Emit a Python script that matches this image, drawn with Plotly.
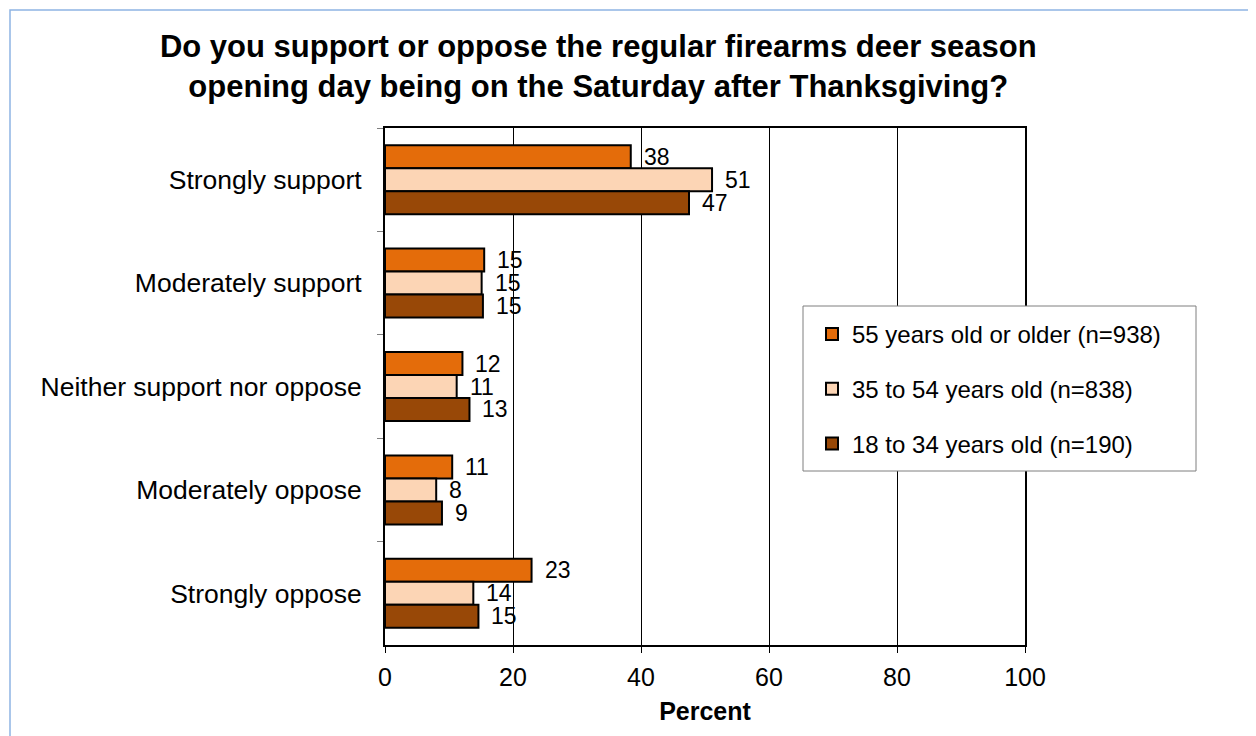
import plotly.graph_objects as go

categories = ["Strongly support", "Moderately support", "Neither support nor oppose",
              "Moderately oppose", "Strongly oppose"]
series_names = ["55 years old or older (n=938)", "35 to 54 years old (n=838)",
                "18 to 34 years old (n=190)"]
values_55 = [38.4, 15.5, 12.1, 10.5, 22.9]
values_35 = [51.1, 15.1, 11.2, 8.0, 13.8]
values_18 = [47.5, 15.3, 13.2, 8.9, 14.6]
labels_55 = [38, 15, 12, 11, 23]
labels_35 = [51, 15, 11, 8, 14]
labels_18 = [47, 15, 13, 9, 15]
colors = ["#E46C0A", "#FCD5B5", "#984807"]
x_ticks = [0, 20, 40, 60, 80, 100]

FONT = "Liberation Sans, Arial, sans-serif"

# layout geometry (pixels, figure coordinates; page has 8px body margin)
W, H = 1248, 728
L, R, T, B = 377, 231, 120, 91
pw, ph = W - L - R, H - T - B
bargap = 0.333

def px_x(p):
    return (p - L) / pw

def px_y(p):
    return (H - B - p) / ph

series_vals = [values_55, values_35, values_18]
series_labels = [labels_55, labels_35, labels_18]

fig = go.Figure()
for i, (name, vals) in enumerate(zip(series_names, series_vals)):
    fig.add_trace(go.Bar(
        y=categories, x=vals, name=name, orientation="h",
        marker=dict(color=colors[i], line=dict(color="black", width=2)),
        legendgroup=f"g{i}",
    ))

# value labels
cat_px = ph / len(categories)
bar_px = cat_px * (1 - bargap) / 3
annotations = []
for i, (vals, labs) in enumerate(zip(series_vals, series_labels)):
    for c, v, lab in zip(categories, vals, labs):
        annotations.append(dict(
            x=v, y=c, xref="x", yref="y", text=str(lab), showarrow=False,
            xanchor="left", yanchor="middle", xshift=12, yshift=(1 - i) * bar_px,
            font=dict(family=FONT, size=23, color="black"), borderpad=0,
        ))

shapes = [
    # outer light-blue frame
    dict(type="rect", xref="paper", yref="paper",
         x0=px_x(2), x1=px_x(1270), y0=px_y(750), y1=px_y(2),
         line=dict(color="#8EB4E3", width=1.5), fillcolor="rgba(0,0,0,0)", layer="below"),
    # legend box
    dict(type="rect", xref="paper", yref="paper",
         x0=px_x(795), x1=px_x(1188), y0=px_y(463), y1=px_y(298),
         line=dict(color="#7F7F7F", width=1), fillcolor="white", layer="above"),
]

fig.update_layout(
    width=W, height=H,
    margin=dict(l=L, r=R, t=T, b=B, autoexpand=False),
    paper_bgcolor="white", plot_bgcolor="white",
    barmode="group", bargap=bargap, bargroupgap=0,
    title=dict(
        text="Do you support or oppose the regular firearms deer season<br>opening day being on the Saturday after Thanksgiving?",
        x=0.473, xanchor="center", y=1 - 49 / H, yanchor="top",
        font=dict(family=FONT, size=31, color="black", weight="bold"),
    ),
    xaxis=dict(
        range=[0, 100], tickvals=x_ticks, ticks="outside", ticklen=6, tickcolor="black",
        showgrid=True, gridcolor="black", gridwidth=1,
        showline=True, linecolor="black", linewidth=2, mirror=True,
        zeroline=False,
        tickfont=dict(family=FONT, size=25, color="black"),
        ticklabelstandoff=3,
        title=dict(text="<b>Percent</b>", font=dict(family=FONT, size=25, color="black"), standoff=12),
    ),
    yaxis=dict(
        autorange="reversed", type="category",
        ticks="outside", ticklen=6, tickcolor="#7F7F7F", tickson="boundaries",
        showgrid=False, showline=True, linecolor="black", linewidth=2, mirror=True,
        tickfont=dict(family=FONT, size=26.5, color="black"),
        ticklabelstandoff=16,
    ),
    showlegend=True,
    legend=dict(
        x=px_x(804), y=px_y(304), xanchor="left", yanchor="top",
        bgcolor="rgba(0,0,0,0)", borderwidth=0,
        font=dict(family=FONT, size=24, color="black"),
        traceorder="grouped", tracegroupgap=20.5,
        itemclick=False,
    ),
    annotations=annotations,
    shapes=shapes,
)

fig.write_html("out.html")
